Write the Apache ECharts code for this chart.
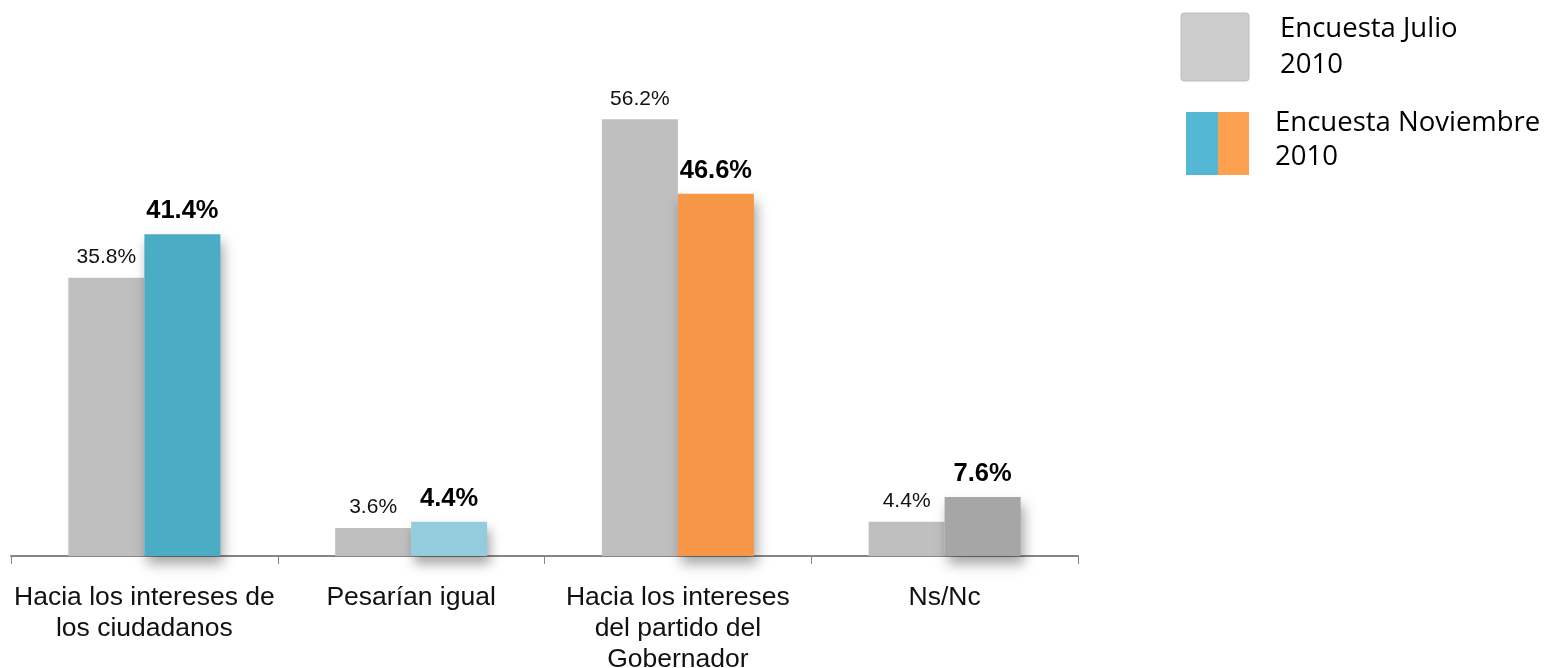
<!DOCTYPE html>
<html>
<head>
<meta charset="utf-8">
<script src="https://cdn.jsdelivr.net/npm/echarts@6/dist/echarts.min.js"></script>
<style>
html,body{margin:0;padding:0;background:#fff;}
#c{width:1544px;height:668px;}
</style>
</head>
<body>
<div id="c"></div>
<script>
var categories = ['Hacia los intereses de\nlos ciudadanos', 'Pesarían igual', 'Hacia los intereses\ndel partido del\nGobernador', 'Ns/Nc'];
var julio = [35.8, 3.6, 56.2, 4.4];
var noviembre = [41.4, 4.4, 46.6, 7.6];
var seriesNames = ['Encuesta Julio\n2010', 'Encuesta Noviembre\n2010'];
var novPalette = ['#4BACC6', '#93CDDD', '#F79646', '#A6A6A6'];

var chart = echarts.init(document.getElementById('c'));
var fmt = function (p) { return p.value.toFixed(1) + '%'; };
chart.setOption({
  animation: false,
  grid: { left: 11, right: 466, top: 12, bottom: 112, containLabel: false, outerBoundsMode: 'none' },
  xAxis: {
    type: 'category',
    data: categories,
    axisLine: { show: true, lineStyle: { color: '#868686', width: 2 } },
    axisTick: { show: true, alignWithLabel: false, length: 8, lineStyle: { color: '#868686', width: 1 } },
    axisLabel: {
      interval: 0, margin: 26,
      fontFamily: 'Liberation Sans, Arial, sans-serif',
      fontSize: 26.5, lineHeight: 31, color: '#111'
    }
  },
  yAxis: { type: 'value', min: 0, max: 70, show: false, splitLine: { show: false } },
  series: [
    {
      name: seriesNames[0], type: 'bar', data: julio,
      barWidth: 76, barGap: '0%',
      itemStyle: { color: '#BFBFBF' },
      label: {
        show: true, position: 'top', distance: 10, formatter: fmt,
        fontFamily: 'Liberation Sans, Arial, sans-serif', fontSize: 21, color: '#111'
      }
    },
    {
      name: seriesNames[1], type: 'bar',
      data: noviembre.map(function (v, i) {
        return { value: v, itemStyle: { color: novPalette[i] } };
      }),
      barWidth: 76,
      itemStyle: {
        shadowColor: 'rgba(0,0,0,0.35)', shadowBlur: 12, shadowOffsetX: 3, shadowOffsetY: 8
      },
      label: {
        show: true, position: 'top', distance: 10, formatter: fmt,
        fontFamily: 'Liberation Sans, Arial, sans-serif', fontSize: 25.5, fontWeight: 'bold', color: '#000'
      }
    }
  ],
  graphic: [
    { type: 'rect', shape: { x: 1181, y: 13, width: 68, height: 68, r: 3 },
      style: { fill: '#CCCCCC', stroke: '#BDBDBD', lineWidth: 1 } },
    { type: 'rect', shape: { x: 1186, y: 112, width: 32, height: 63 },
      style: { fill: '#54B8D4' } },
    { type: 'rect', shape: { x: 1218, y: 112, width: 31, height: 63 },
      style: { fill: '#FBA14F' } },
    { type: 'text', x: 1280, y: 11,
      style: { text: seriesNames[0], fontFamily: 'Open Sans, sans-serif', fontSize: 27.5, lineHeight: 36, fill: '#000' } },
    { type: 'text', x: 1275, y: 106,
      style: { text: seriesNames[1], fontFamily: 'Open Sans, sans-serif', fontSize: 27.5, lineHeight: 34, fill: '#000' } }
  ]
});
</script>
</body>
</html>
